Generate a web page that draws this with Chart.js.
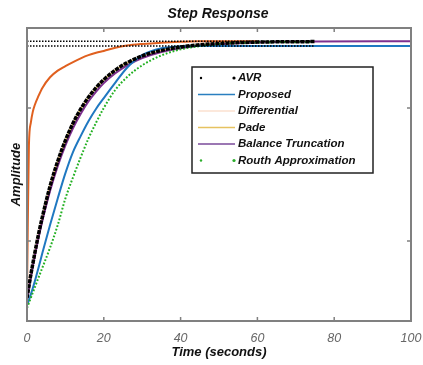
<!DOCTYPE html>
<html>
<head>
<meta charset="utf-8">
<script src="https://cdn.jsdelivr.net/npm/chart.js@4.4.0/dist/chart.umd.min.js"></script>
<style>
  body { margin: 0; background: #fff; }
  #wrap { width: 423px; height: 365px; }
</style>
</head>
<body>
<div id="wrap"><canvas id="stepChart"></canvas></div>
<script>
// time grid (seconds) shared by all responses
const timeS = [0, 0.2, 0.5, 1, 1.5, 2, 3, 4, 6, 8, 10, 12, 14, 16, 18, 20, 23, 26, 30, 35, 40, 45, 50, 60, 75, 100];

// amplitudes
const avr = [0.286, 0.304, 0.331, 0.374, 0.414, 0.453, 0.526, 0.591, 0.706, 0.800, 0.878, 0.943, 0.996, 1.040, 1.076, 1.106, 1.142, 1.169, 1.195, 1.216, 1.229, 1.237, 1.242, 1.247, 1.249, null];
const proposed = [0.260, 0.266, 0.278, 0.300, 0.323, 0.347, 0.400, 0.455, 0.560, 0.660, 0.755, 0.835, 0.895, 0.950, 0.997, 1.037, 1.095, 1.150, 1.198, 1.224, 1.231, 1.232, 1.232, 1.232, 1.232, 1.232];
const differential = [0.305, 0.550, 0.860, 0.945, 0.985, 1.010, 1.045, 1.075, 1.115, 1.140, 1.157, 1.172, 1.186, 1.198, 1.207, 1.214, 1.226, 1.234, 1.240, 1.245, 1.248, 1.250, 1.250, 1.250, null, null];
const pade = avr;
const balanceTrunc = [0.280, 0.298, 0.323, 0.364, 0.404, 0.441, 0.512, 0.576, 0.688, 0.781, 0.859, 0.924, 0.978, 1.024, 1.061, 1.093, 1.130, 1.159, 1.187, 1.210, 1.224, 1.234, 1.240, 1.246, 1.249, 1.250];
const routh = [0.249, 0.256, 0.268, 0.287, 0.306, 0.325, 0.363, 0.400, 0.475, 0.560, 0.660, 0.740, 0.815, 0.885, 0.945, 1.000, 1.068, 1.115, 1.160, 1.197, 1.220, 1.232, 1.240, 1.246, 1.248, null];

// dotted steady-state reference lines
const refLevels = [1.25, 1.232];
const refSpan = [0, 75];

const xTicks = [0, 20, 40, 60, 80, 100];

function pts(values) {
    return timeS.map((t, i) => ({ x: t, y: values[i] }));
}

const legendItems = [
    { text: 'AVR', color: '#000', dots: true },
    { text: 'Proposed', color: '#2a7fc0' },
    { text: 'Differential', color: '#fbe1cf' },
    { text: 'Pade', color: '#e6c260' },
    { text: 'Balance Truncation', color: '#7a4a9a' },
    { text: 'Routh Approximation', color: '#2cae2c', dots: true }
];

const frame = {
    id: 'frame',
    afterDraw(chart) {
        const c = chart.ctx;
        const a = chart.chartArea;
        const xs = chart.scales.x, ys = chart.scales.y;
        c.save();
        c.strokeStyle = '#808080';
        c.lineWidth = 2;
        c.strokeRect(a.left, a.top, a.right - a.left, a.bottom - a.top);
        c.lineWidth = 1.5;
        c.beginPath();
        xTicks.slice(1, -1).forEach(v => {
            const px = xs.getPixelForValue(v);
            c.moveTo(px, a.bottom); c.lineTo(px, a.bottom - 4);
            c.moveTo(px, a.top); c.lineTo(px, a.top + 4);
        });
        [0.5, 1.0].forEach(v => {
            const py = ys.getPixelForValue(v);
            c.moveTo(a.left, py); c.lineTo(a.left + 4, py);
            c.moveTo(a.right, py); c.lineTo(a.right - 4, py);
        });
        c.stroke();

        // legend box
        const bx = 192, by = 67, bw = 181, bh = 106;
        c.fillStyle = '#fff';
        c.fillRect(bx, by, bw, bh);
        c.strokeStyle = '#222';
        c.lineWidth = 1.5;
        c.strokeRect(bx, by, bw, bh);
        c.font = 'italic bold 11.5px "Liberation Sans", Arial, sans-serif';
        c.textBaseline = 'middle';
        legendItems.forEach((it, i) => {
            const y = by + 11 + i * 16.5;
            if (it.dots) {
                c.fillStyle = it.color;
                c.beginPath(); c.arc(201, y, 1.2, 0, Math.PI * 2); c.fill();
                c.beginPath(); c.arc(234, y, 1.6, 0, Math.PI * 2); c.fill();
            } else {
                c.strokeStyle = it.color;
                c.lineWidth = 1.3;
                c.beginPath(); c.moveTo(198, y); c.lineTo(235, y); c.stroke();
            }
            c.fillStyle = '#111';
            c.fillText(it.text, 238, y);
        });
        c.restore();
    }
};

const ctx = document.getElementById('stepChart').getContext('2d');

new Chart(ctx, {
    type: 'line',
    data: {
        datasets: [
            ...refLevels.map(lv => ({
                label: 'ref',
                data: refSpan.map(t => ({ x: t, y: lv })),
                borderColor: '#000',
                borderWidth: 1.5,
                borderDash: [1.5, 1.5],
                order: -1
            })),
            {
                label: 'AVR',
                data: pts(avr),
                borderColor: '#000',
                borderWidth: 3.5,
                borderDash: [4, 1],
                order: 0
            }, {
                label: 'Routh Approximation',
                data: pts(routh),
                borderColor: '#22b022',
                borderWidth: 2,
                borderDash: [1.8, 1.8],
                order: 1
            }, {
                label: 'Proposed',
                data: pts(proposed),
                borderColor: '#1f78c1',
                borderWidth: 2,
                order: 2
            }, {
                label: 'Balance Truncation',
                data: pts(balanceTrunc),
                borderColor: '#7e2f8e',
                borderWidth: 2,
                order: 3
            }, {
                label: 'Differential',
                data: pts(differential),
                borderColor: '#e0601f',
                borderWidth: 2,
                order: 4
            }, {
                label: 'Pade',
                data: pts(pade),
                borderColor: '#e6c260',
                borderWidth: 1.5,
                order: 5
            }
        ]
    },
    options: {
        responsive: true,
        maintainAspectRatio: false,
        animation: false,
        layout: { padding: { left: 13, right: 0, top: 0, bottom: 0 } },
        elements: {
            point: { radius: 0 },
            line: { cubicInterpolationMode: 'monotone', fill: false }
        },
        plugins: {
            legend: { display: false },
            tooltip: { enabled: false },
            title: {
                display: true,
                text: 'Step Response',
                color: '#111',
                font: { family: '"Liberation Sans", Arial, sans-serif', size: 14, style: 'italic', weight: 'bold' },
                padding: { top: 6, bottom: 5.2 }
            }
        },
        scales: {
            x: {
                type: 'linear',
                min: 0,
                max: 100,
                afterBuildTicks: s => { s.ticks = xTicks.map(v => ({ value: v })); },
                afterFit: s => { s.height = 44; s.paddingLeft = 0; s.paddingRight = 12; },
                grid: { display: false, drawTicks: false },
                border: { display: false },
                ticks: {
                    padding: 10,
                    color: '#666',
                    maxRotation: 0,
                    font: { family: '"Liberation Sans", Arial, sans-serif', size: 12.5, style: 'italic' }
                },
                title: {
                    display: true,
                    text: 'Time (seconds)',
                    color: '#111',
                    padding: { top: 0, bottom: 5 },
                    font: { family: '"Liberation Sans", Arial, sans-serif', size: 13, style: 'italic', weight: 'bold' }
                }
            },
            y: {
                min: 0.2,
                max: 1.3,
                afterFit: s => { s.width = 14; },
                grid: { display: false, drawTicks: false },
                border: { display: false },
                ticks: { display: false },
                title: {
                    display: true,
                    text: 'Amplitude',
                    color: '#111',
                    padding: { top: -4, bottom: 0 },
                    font: { family: '"Liberation Sans", Arial, sans-serif', size: 13, style: 'italic', weight: 'bold' }
                }
            }
        }
    },
    plugins: [frame]
});
</script>
</body>
</html>
